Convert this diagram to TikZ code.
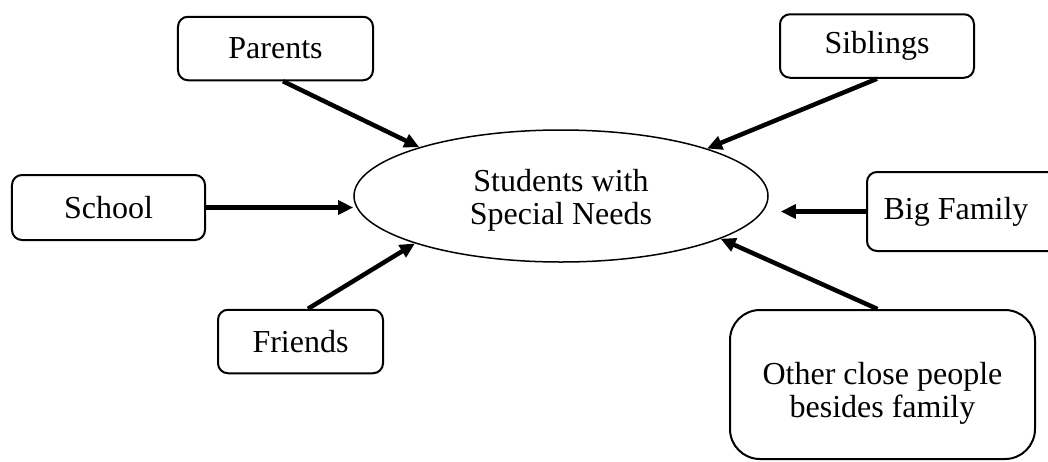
\documentclass[tikz,border=0pt]{standalone}
\usepackage{fontspec}
\setmainfont{Liberation Serif}
\usepackage{tikz}
\usetikzlibrary{shapes}
\usetikzlibrary{arrows.meta}
\usetikzlibrary{positioning}
\tikzstyle{box}=[rectangle,draw=black,line width=0.8pt,rounded corners=4pt,inner sep=0mm,minimum height=25.4pt,align=center]
\tikzstyle{bigbox}=[rectangle,draw=black,line width=0.8pt,rounded corners=12pt,inner sep=0mm,align=center]
\tikzstyle{center}=[ellipse,draw=black,line width=0.6pt,inner sep=0mm,minimum width=165.6pt,minimum height=52.8pt,align=center]
\tikzstyle{arrow}=[-{Triangle[length=6pt,width=5.5pt]},line width=1.8pt]
\tikzset{every node/.style={font=\fontsize{12.8}{13.2}\selectfont}}

\begin{document}
\begin{tikzpicture}[x=0.4pt,y=-0.4pt]
    \useasboundingbox (0,0) rectangle (1048,461);
    \node[center] at (561,196) (students) {\raisebox{-1.6pt}[\height][\depth]{\parbox{100pt}{\centering Students with\\Special Needs}}};
    \node[box,minimum width=78pt] at (275.5,48.5) (parents) {Parents};
    \node[box,minimum width=77.6pt] at (877,46) (siblings) {Siblings};
    \node[box,minimum width=77.2pt,minimum height=26pt] at (108.5,207.5) (school) {School};
    \node[box,minimum width=66pt] at (300.5,341.5) (friends) {Friends};
    \node[box,minimum width=77.2pt,minimum height=31.6pt] at (963.5,211.5) (bigfamily) {\hspace*{-6pt}Big Family};
    \node[bigbox,minimum width=122pt,minimum height=59.6pt] at (882.5,384.5) (other) {\raisebox{-3.6pt}[\height][\depth]{\parbox{120pt}{\centering Other close people\\besides family}}};
    \draw[arrow] ([xshift=3pt]parents.south) -- (students.161.6);
    \draw[arrow] (siblings.south) -- (students.18.1);
    \draw[arrow] (school.east) -- (students.west |- school.east);
    \draw[arrow] ([xshift=3pt]friends.north) -- (students.198.7);
    \draw[arrow,shorten >=4.8pt] (bigfamily.west) -- (bigfamily.west -| students.east);
    \draw[arrow] ([xshift=-2pt]other.north) -- (students.345.6);
  \end{tikzpicture}
\end{document}
